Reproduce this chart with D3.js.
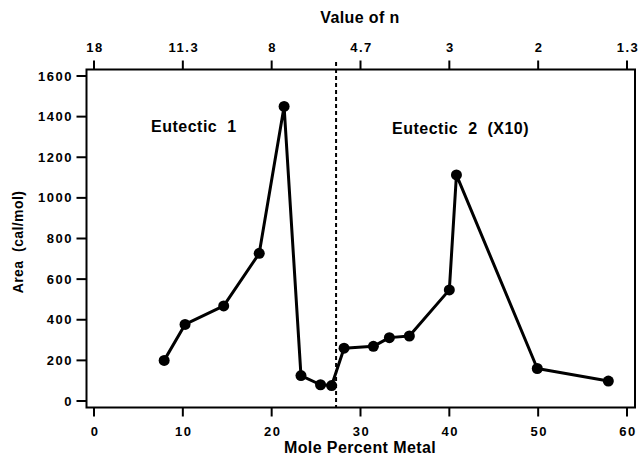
<!DOCTYPE html>
<html lang="en">
<head>
  <meta charset="UTF-8" />
  <title>Area vs Mole Percent Metal</title>
  <script src="https://d3js.org/d3.v7.min.js"></script>
  <style>
    body { margin: 0; padding: 0; background: white; }
    svg { display: block; font-family: "Liberation Sans", Arial, sans-serif; font-weight: bold; }
    .tick-label { font-size: 13px; letter-spacing: 1.5px; fill: black; }
    .axis-title { font-size: 16px; letter-spacing: 0.4px; fill: black; white-space: pre; }
    .note { font-size: 16px; letter-spacing: 0.5px; fill: black; white-space: pre; }
  </style>
</head>
<body>
  <svg id="chart" width="638" height="456"></svg>
  <script>
    // mole percent metal vs area (cal/mol)
    const molePct = [7.9, 10.25, 14.6, 18.6, 21.4, 23.3, 25.5, 26.75, 28.15, 31.45, 33.25, 35.5, 40.0, 40.8, 49.9, 57.9];
    const area    = [200, 377, 468, 727, 1450, 125, 80, 76, 260, 269, 312, 320, 547, 1113, 160, 98];

    const bottomTicks = [0, 10, 20, 30, 40, 50, 60];
    const topLabels = ["18", "11.3", "8", "4.7", "3", "2", "1.3"];
    const yTicks = [0, 200, 400, 600, 800, 1000, 1200, 1400, 1600];
    const divider = 27.25;

    const box = { left: 86.5, right: 635, top: 69.5, bottom: 407.5 };

    const svg = d3.select("#chart");

    const x = d3.scaleLinear().domain([0, 60]).range([94, 627]);
    const y = d3.scaleLinear().domain([0, 1600]).range([401, 76]);

    // frame
    svg.append("rect")
      .attr("x", box.left).attr("y", box.top)
      .attr("width", box.right - box.left)
      .attr("height", box.bottom - box.top)
      .attr("fill", "none").attr("stroke", "black").attr("stroke-width", 2);

    // bottom ticks
    svg.selectAll(".xtick")
      .data(bottomTicks)
      .join("line")
      .attr("x1", d => x(d)).attr("x2", d => x(d))
      .attr("y1", box.bottom).attr("y2", box.bottom + 9)
      .attr("stroke", "black").attr("stroke-width", 2);

    svg.selectAll(".xlabel")
      .data(bottomTicks)
      .join("text")
      .attr("class", "tick-label")
      .attr("x", d => x(d) + 1)
      .attr("y", 436)
      .attr("text-anchor", "middle")
      .text(d => d);

    // top ticks (value of n)
    svg.selectAll(".ttick")
      .data(bottomTicks)
      .join("line")
      .attr("x1", d => x(d)).attr("x2", d => x(d))
      .attr("y1", box.top).attr("y2", box.top - 9)
      .attr("stroke", "black").attr("stroke-width", 2);

    svg.selectAll(".tlabel")
      .data(bottomTicks)
      .join("text")
      .attr("class", "tick-label")
      .attr("x", d => x(d) + 1)
      .attr("y", 52)
      .attr("text-anchor", "middle")
      .text((d, i) => topLabels[i]);

    // y ticks
    svg.selectAll(".ytick")
      .data(yTicks)
      .join("line")
      .attr("x1", box.left - 10).attr("x2", box.left)
      .attr("y1", d => y(d)).attr("y2", d => y(d))
      .attr("stroke", "black").attr("stroke-width", 2);

    svg.selectAll(".ylabel")
      .data(yTicks)
      .join("text")
      .attr("class", "tick-label")
      .attr("x", 73)
      .attr("y", d => y(d))
      .attr("dy", "0.35em")
      .attr("text-anchor", "end")
      .text(d => d);

    // axis titles
    svg.append("text").attr("class", "axis-title")
      .attr("x", 360).attr("y", 23).attr("text-anchor", "middle")
      .text("Value of n");
    svg.append("text").attr("class", "axis-title")
      .attr("x", 360).attr("y", 453).attr("text-anchor", "middle")
      .text("Mole Percent Metal");
    svg.append("text").attr("class", "axis-title")
      .style("font-size", "14px")
      .attr("transform", "translate(23,242) rotate(-90)")
      .attr("text-anchor", "middle")
      .text("Area  (cal/mol)");

    // divider between eutectics
    svg.append("line")
      .attr("x1", x(divider)).attr("x2", x(divider))
      .attr("y1", 62).attr("y2", box.bottom)
      .attr("stroke", "black").attr("stroke-width", 2)
      .attr("stroke-dasharray", "4,3");

    // annotations
    svg.append("text").attr("class", "note")
      .attr("x", 151).attr("y", 132).text("Eutectic  1");
    svg.append("text").attr("class", "note")
      .attr("x", 392).attr("y", 134).text("Eutectic  2  (X10)");

    // data line + markers
    const pts = molePct.map((m, i) => [m, area[i]]);
    svg.append("path")
      .datum(pts)
      .attr("fill", "none")
      .attr("stroke", "black")
      .attr("stroke-width", 3)
      .attr("stroke-linejoin", "round")
      .attr("d", d3.line().x(d => x(d[0])).y(d => y(d[1])));

    svg.selectAll(".pt")
      .data(pts)
      .join("circle")
      .attr("cx", d => x(d[0]))
      .attr("cy", d => y(d[1]))
      .attr("r", 5.5)
      .attr("fill", "black");
  </script>
</body>
</html>
